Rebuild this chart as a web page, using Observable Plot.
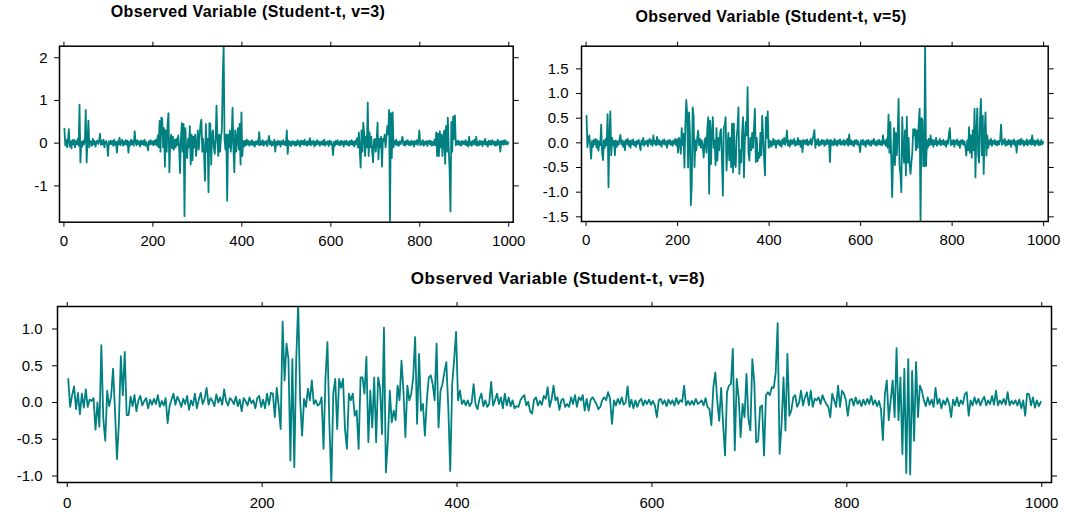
<!DOCTYPE html>
<html><head><meta charset="utf-8">
<script src="https://cdn.jsdelivr.net/npm/d3@7"></script>
<script src="https://cdn.jsdelivr.net/npm/@observablehq/plot@0.6"></script>
<style>
body{margin:0;background:#fff;}
#root{position:relative;width:1068px;height:517px;overflow:hidden;background:#fff;font-family:"Liberation Sans",Arial,Helvetica,sans-serif;}
.panel{position:absolute;}
.title{position:absolute;font-weight:bold;white-space:nowrap;transform:translate(-50%,-50%);color:#000;}
</style></head><body><div id="root"></div>
<script>
// sampling: one value every 2 time steps, starting at t = 1 (values in hundredths)
const step = 2;
const v3Values = [
34,-5,8,-10,6,33,-8,4,-12,7,
-3,8,-10,5,-2,10,-6,90,-45,3,
-8,6,-3,4,78,-45,8,53,-10,5,
4,-6,10,-3,5,-8,3,6,-2,4,
22,-4,6,-3,8,-10,3,5,-4,-30,
4,-3,6,-2,5,-6,8,-4,3,-22,
5,-3,13,-5,3,8,-6,4,-3,7,
-4,6,-22,3,-5,8,-3,5,-6,28,
3,-5,7,-2,4,-8,6,-3,5,-4,
8,-6,3,-4,-17,5,-3,7,-2,4,
-5,6,-3,8,-6,18,-10,52,-20,60,
57,-10,35,-55,30,-20,45,70,-68,5,
20,-12,15,-15,8,-10,10,-5,18,-12,
-70,10,47,-20,45,-171,35,-20,-35,10,
-10,40,-50,20,-40,15,-10,20,-30,-5,
30,-15,15,45,55,-20,10,-25,-88,45,
-20,10,-115,47,45,-50,20,30,-10,-25,
10,88,10,-30,20,-20,15,30,152,230,
10,-15,20,-135,20,-10,30,-20,10,83,
-10,-68,30,-20,10,35,-15,45,-50,72,
-30,5,-8,6,-5,8,-3,5,-6,4,
-3,7,-5,3,-8,4,-2,6,-4,26,
-5,4,-3,7,-6,3,-2,5,-7,4,
17,-3,5,-6,3,-4,8,-20,3,-5,
6,-3,4,-8,5,-2,7,-4,3,-5,
30,-25,6,-4,3,-7,5,-2,4,-6,
3,-5,7,-3,4,-8,6,-2,5,-4,
8,-4,3,-6,5,-3,12,-5,4,-2,
6,-8,3,-4,7,-2,4,-6,3,-3,
5,-4,8,-6,3,-2,4,-7,6,-3,
4,-5,-28,3,-6,5,-2,7,-4,3,
-5,6,-3,4,-8,5,-2,6,-4,3,
-6,5,-3,7,-4,3,-8,6,-2,12,
-10,25,-15,-57,30,-20,48,20,-30,15,
-10,95,-30,25,-10,15,-20,-45,7,10,
-20,5,48,-38,10,-10,15,-55,10,5,
20,-10,15,40,20,78,-186,70,-35,72,
-10,5,-3,8,-5,3,-6,4,-2,6,
15,-4,3,-6,5,-2,7,-4,3,-5,
6,-3,4,-8,5,-2,7,-4,3,30,
-5,4,-3,7,-6,3,-2,5,-7,4,
6,-3,5,-6,3,-4,8,-5,25,-30,
22,-30,28,-10,20,-30,15,30,-48,40,
-20,60,-10,-65,-160,50,-20,62,10,65,
-5,5,-3,6,-4,3,-6,5,-2,4,
-3,7,-5,3,-8,15,-4,3,-6,5,
-2,8,-4,15,-6,3,-5,6,-3,4,
-7,5,-2,10,-4,3,-8,6,-3,5,
-4,7,-2,4,-6,3,-5,8,-3,4,
-20,5,-3,6,-4,7,-2,4,-3,2];
const v5Values = [
55,-9,10,15,-5,-32,4,-8,6,-3,
8,-10,5,-16,3,-5,37,-20,-35,5,
-10,8,-5,58,-90,15,64,-25,10,-5,
4,-25,5,-8,3,-4,6,16,-3,5,
-8,3,-15,6,-2,8,-6,4,-10,5,
-3,7,-5,2,-8,4,-2,6,-4,-15,
5,-3,10,-6,3,-2,5,-7,4,8,
-3,5,-6,15,-2,4,-5,12,-3,6,
-4,3,-8,5,-2,7,-4,3,-10,5,
-2,6,-4,3,-6,5,-2,8,-5,7,
-20,10,5,-22,30,-5,18,-50,35,87,
59,-50,62,20,-126,-86,72,55,-49,5,
-15,10,25,-5,8,-10,5,-8,-30,5,
10,-20,30,52,-103,45,-43,20,52,-10,
5,-45,30,-36,10,-15,20,28,-35,-107,
32,35,52,-56,-10,20,-35,10,-49,39,
-60,39,-43,-49,10,30,72,-63,-15,-40,
20,52,-70,5,42,15,113,-22,-36,10,
-15,20,-10,30,69,-39,10,-37,-20,-30,
20,-25,55,10,-30,-66,52,10,64,-10,
5,-8,3,-6,8,-3,5,-10,4,-2,
6,-5,3,-8,7,-2,10,-4,3,25,
-5,4,-8,6,-3,5,-2,8,-6,3,
-4,10,-3,5,-8,4,-19,6,-2,5,
-3,7,-5,3,-2,8,-4,6,15,26,
-10,5,-3,8,-6,3,-4,6,-2,5,
-6,4,-3,7,-2,5,-39,6,-4,3,
-5,8,-3,4,-6,5,-2,7,-4,3,
-3,6,-5,4,-2,8,-6,17,-3,5,
-4,3,-7,5,-2,6,-4,3,-5,-19,
5,-3,6,-4,3,-8,5,-2,6,-4,
3,-6,5,-2,8,-4,3,-6,5,-3,
6,-4,3,-5,15,-2,4,-6,8,-10,
57,-20,42,-30,-110,-30,30,-45,20,-25,
15,89,-45,-63,-100,52,-10,-40,25,-66,
53,-40,10,-43,-63,-40,-20,28,15,28,
-15,25,-10,40,69,-165,50,47,-47,-47,
200,-47,5,-10,8,-5,15,-3,6,-8,
5,-3,10,-6,3,-2,8,-5,4,-3,
6,-4,3,-8,5,-2,18,30,-5,4,
-3,6,-8,4,-2,7,-5,3,-10,5,
-2,6,-4,3,-8,-26,5,-15,32,-20,
15,-30,25,-15,69,-70,20,70,-25,-40,
50,89,-25,55,-63,20,62,-26,15,-10,
5,-3,8,-6,4,-2,6,-4,3,-5,
4,-3,6,37,-4,5,-2,8,-6,3,
-4,6,-3,5,-8,4,-2,7,-5,3,
-20,5,-3,6,-4,8,-2,5,-6,3,
-3,7,-5,4,-2,6,-4,15,-3,5,
-6,4,-2,7,-5,3,-4,6,-3,2];
const v8Values = [
32,-6,10,22,-9,13,-16,12,-7,18,
-6,4,2,6,-37,0,-33,78,-22,-52,
16,-5,8,46,-10,-77,-28,63,10,69,
-17,-17,8,-5,10,-12,3,9,-4,2,
6,-8,4,-3,5,-2,10,-6,2,-4,
6,-28,-5,4,12,-3,8,2,-6,5,
-2,9,-10,3,-4,12,-8,4,13,-2,
5,20,-3,6,2,-5,11,0,7,-3,
18,2,-4,6,3,-2,8,-5,4,-12,
6,2,-4,7,-1,3,-8,6,9,-6,
4,-8,12,-3,13,12,-20,20,-5,-36,
110,30,80,59,-79,59,-88,60,135,3,
-45,5,-6,19,3,30,-2,3,-4,-2,
7,-63,34,82,-29,-110,12,32,-36,32,
20,32,-36,-63,12,3,12,-18,-11,-63,
34,34,12,62,-54,16,-34,34,-54,34,
20,-43,102,-95,-52,16,-27,-11,-24,23,
3,57,16,-47,23,3,12,34,89,-29,
66,-11,-2,-45,3,34,37,25,3,80,
-34,16,25,41,55,-6,-93,25,58,96,
3,16,-2,3,-4,3,-5,0,25,-3,
-9,5,12,-5,3,-6,-2,28,-4,3,
12,-2,7,-8,12,-4,7,-5,3,-8,
-5,-6,3,7,10,-4,1,-12,-15,4,
7,-4,2,-3,9,5,21,-6,4,23,
3,7,-10,3,5,-6,-2,-6,7,-2,
10,-6,7,3,10,-11,5,-11,3,7,
3,-2,-9,-6,3,7,3,14,5,-29,
3,-4,5,-2,7,-3,0,22,-6,4,
-8,3,-6,2,5,-4,3,-2,4,-3,
2,-4,-20,3,5,-2,3,-5,4,-2,
3,-4,6,-2,3,1,23,-4,2,-3,
2,-3,5,-2,0,3,-4,6,-6,-9,
-31,21,41,3,-25,20,-29,-72,14,23,
25,73,-65,32,7,-47,-2,-20,39,-22,
-38,59,28,-54,-52,-6,-4,-72,10,14,
10,21,20,41,108,-70,-31,34,-38,66,
-18,-11,7,10,-6,0,16,-4,7,14,
-4,16,-6,5,3,7,-2,10,3,-2,
-6,-20,12,3,-6,23,-6,16,12,3,
-18,3,5,-4,7,-2,3,-5,4,-3,
5,-2,9,-3,3,-5,2,-9,-51,11,
30,-24,3,30,-20,74,-24,34,-70,46,
-96,59,-98,43,-52,55,-20,23,16,3,
-5,7,-3,4,-6,20,-2,5,-8,3,
-3,6,-2,-20,4,-4,7,-5,3,-2,
11,14,-18,3,-4,7,-2,5,-4,3,
8,-4,3,-2,9,-3,16,-4,3,-2,
5,-3,14,-4,2,-2,3,-4,4,-8,
3,-18,12,11,-4,7,-7,3,-5,1];

const titles = ["Observed Variable (Student-t, v=3)", "Observed Variable (Student-t, v=5)", "Observed Variable (Student-t, v=8)"];
const xTicks = [0, 200, 400, 600, 800, 1000];
const yTicks3 = [-1, 0, 1, 2];
const yTicks5 = [-1.5, -1.0, -0.5, 0.0, 0.5, 1.0, 1.5];
const yTicks8 = [-1.0, -0.5, 0.0, 0.5, 1.0];
const yDomain3 = [-1.85, 2.27];
const yDomain5 = [-1.595, 1.96];
const yDomain8 = [-1.088, 1.306];
const xDomain = [-10, 1010];

const toSeries = vals => vals.map((v, i) => ({t: 1 + step * i, value: v / 100}));
const root = document.getElementById("root");
const FONT = "'Liberation Sans', Arial, Helvetica, sans-serif";

function panel(cfg) {
  const chart = Plot.plot({
    width: cfg.width, height: cfg.height,
    marginLeft: cfg.ml, marginRight: cfg.mr, marginTop: cfg.mt, marginBottom: cfg.mb,
    style: {fontFamily: FONT, fontSize: "15px", color: "black", background: "transparent", overflow: "visible"},
    x: {domain: xDomain},
    y: {domain: cfg.yDomain},
    marks: [
      Plot.line(toSeries(cfg.values), {x: "t", y: "value", stroke: "#008080", strokeWidth: 1.8, clip: true}),
      Plot.frame({stroke: "black", strokeWidth: 1.5}),
      Plot.axisX(xTicks, {anchor: "bottom", tickSize: 5, tickPadding: cfg.xpad, label: null, tickFormat: d => String(d)}),
      Plot.axisX(xTicks, {anchor: "top", tickSize: 5, label: null, tickFormat: () => ""}),
      Plot.axisY(cfg.yTicks, {anchor: "left", tickSize: 5, tickPadding: cfg.ypad, label: null, tickFormat: cfg.fmt}),
      Plot.axisY(cfg.yTicks, {anchor: "right", tickSize: 5, label: null, tickFormat: () => ""})
    ]
  });
  chart.classList.add("panel");
  chart.style.left = cfg.left + "px";
  chart.style.top = cfg.top + "px";
  root.appendChild(chart);
}

panel({values: v3Values, yDomain: yDomain3, yTicks: yTicks3, fmt: d => String(d), xpad: 8, ypad: 7,
  left: 0, top: 0, width: 534, height: 260, ml: 59, mr: 21.3, mt: 45.7, mb: 38.3});
panel({values: v5Values, yDomain: yDomain5, yTicks: yTicks5, fmt: d => d.toFixed(1), xpad: 8, ypad: 8,
  left: 534, top: 0, width: 534, height: 260, ml: 47, mr: 20.3, mt: 45.7, mb: 39});
panel({values: v8Values, yDomain: yDomain8, yTicks: yTicks8, fmt: d => d.toFixed(1), xpad: 10, ypad: 10,
  left: 0, top: 260, width: 1068, height: 257, ml: 57, mr: 17, mt: 46, mb: 35});

const titlePos = [[248, 12, 16, 0.4], [771, 17, 16, 0.3], [558, 279, 17, 0.5]];
titles.forEach((t, i) => {
  const d = document.createElement("div");
  d.className = "title";
  d.textContent = t;
  d.style.left = titlePos[i][0] + "px";
  d.style.top = titlePos[i][1] + "px";
  d.style.fontSize = titlePos[i][2] + "px";
  d.style.letterSpacing = titlePos[i][3] + "px";
  root.appendChild(d);
});
</script></body></html>
